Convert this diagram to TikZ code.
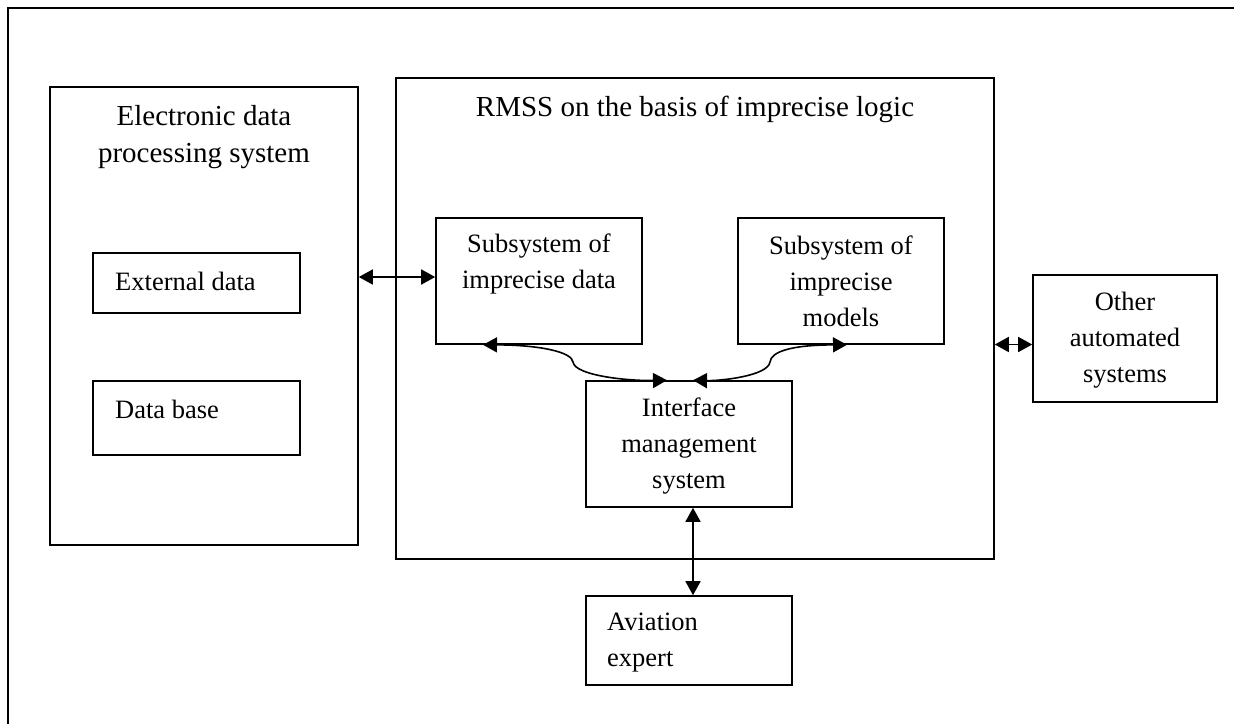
\documentclass[tikz,border=0pt]{standalone}
\usepackage{fontspec}
\setmainfont{Liberation Serif}
\usetikzlibrary{arrows.meta,fit}
\tikzset{
  box/.style={draw, line width=1.6pt, inner sep=0pt},
  frameline/.style={line width=2pt},
  lbl/.style={inner sep=0pt, font=\fontsize{26.5}{36}\selectfont, align=center},
  lbll/.style={inner sep=0pt, font=\fontsize{26.5}{36}\selectfont, align=left},
  ttl/.style={inner sep=0pt, font=\fontsize{29}{37}\selectfont, align=center},
  arr/.style={line width=1.6pt, {Triangle[length=14pt,width=15pt]}-{Triangle[length=14pt,width=15pt]}}
}
\begin{document}
\begin{tikzpicture}[x=1pt,y=-1pt]
\useasboundingbox (0,0) rectangle (1234,724);
% outer frame (only top and left edges visible)
\draw[frameline] (8,724) -- (8,8) -- (1234,8);

% boxes
\node[box, fit={(50,87) (358,545)}] (edps) {};
\node[box, fit={(93,253) (300,313)}] (ext) {};
\node[box, fit={(93,381) (300,455)}] (db) {};
\node[box, fit={(396,78) (994,559)}] (rmss) {};
\node[box, fit={(436,218) (642,344)}] (sid) {};
\node[box, fit={(738,218) (944,344)}] (sim) {};
\node[box, fit={(586,381) (792,507)}] (ims) {};
\node[box, fit={(586,596) (792,685)}] (av) {};
\node[box, fit={(1033,275) (1217,402)}] (oas) {};

% texts
\node[ttl] (edpsT) at (204,137) {Electronic data\\processing system};
\node[lbll, anchor=west] (extT) at (115,281) {External data};
\node[lbll, anchor=west] (dbT) at (115,409) {Data base};
\node[ttl] (rmssT) at (695,109) {RMSS on the basis of imprecise logic};
\node[lbl] (sidT) at (539,264) {Subsystem of\\imprecise data};
\node[lbl] (simT) at (841,281) {Subsystem of\\imprecise\\models};
\node[lbl] (imsT) at (689,446) {Interface\\management\\system};
\node[lbll, anchor=west] (avT) at (607,643) {Aviation\\expert};
\node[lbl] (oasT) at (1125,340) {Other\\automated\\systems};

% connectors
\draw[arr] ([yshift=4pt]sid.west -| edps.east) -- ([yshift=4pt]sid.west);
\draw[arr] ([xshift=-56pt]sid.south) .. controls (540,345) and (572,352) .. (573,362)
  .. controls (575,376) and (630,381) .. ([xshift=-22pt]ims.north);
\draw[arr] ([xshift=6pt]sim.south) .. controls (790,345) and (771,352) .. (770,362)
  .. controls (768,376) and (720,381) .. ([xshift=4pt]ims.north);
\draw[arr] ([xshift=4pt]ims.south) -- ([xshift=4pt]av.north);
\draw[arr] ([yshift=-6pt]oas.west -| rmss.east) -- ([yshift=-6pt]oas.west);
\end{tikzpicture}
\end{document}
